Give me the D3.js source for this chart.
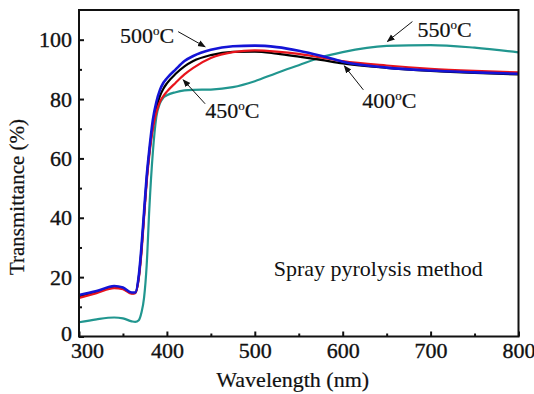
<!DOCTYPE html>
<html>
<head>
<meta charset="utf-8">
<script src="https://cdn.jsdelivr.net/npm/d3@7"></script>
<style>
  body { margin: 0; background: #fff; }
  text { font-family: "Liberation Serif", "Times New Roman", serif; fill: #111; }
</style>
</head>
<body>
<script>
// wavelength grid (nm) shared by every curve
var wavelength = [300, 320, 340, 350, 360, 364, 368, 371, 374, 377, 380, 384, 388, 392, 396,
                  400, 410, 420, 430, 450, 475, 500, 525, 550, 575, 600, 650, 700, 750, 800];

// transmittance (%)
var t400 = [13.5, 15, 16.7, 16.2, 14.6, 14.7, 20, 29, 41, 53, 62, 71, 77, 81, 83.5,
            85.3, 88.5, 91, 92.8, 94.8, 95.9, 96, 95.3, 94.3, 93.2, 92, 90.5, 89.5, 88.8, 88.3];
var t450 = [13, 14.6, 16.3, 15.9, 14.4, 14.6, 19.5, 28, 40, 52, 61, 70, 75.5, 79, 81,
            82.5, 85.5, 88.3, 90.5, 93.8, 95.8, 96.4, 96, 95.2, 94, 92.8, 91.3, 90.2, 89.5, 89];
var t500 = [14, 15.3, 17, 16.5, 14.8, 14.8, 20.5, 30, 42, 54, 63, 73, 79, 83, 85.5,
            87, 90, 92.8, 94.5, 96.6, 97.8, 98, 97.5, 96.3, 94.6, 92.6, 90.6, 89.6, 89, 88.5];
var t550 = [4.8, 5.8, 6.4, 6.1, 5.1, 4.9, 5.5, 8, 13, 24, 43, 62, 74, 78.5, 80.5,
            81.3, 82.3, 82.9, 83.1, 83.2, 84, 86, 88.8, 91.4, 94, 95.8, 97.9, 98.2, 97.3, 95.7];

var series = [
  {name: "550", values: t550, color: "#21968f"},
  {name: "400", values: t400, color: "#000000"},
  {name: "450", values: t450, color: "#e8141c"},
  {name: "500", values: t500, color: "#1414d6"}
];

var xTicks = [300, 400, 500, 600, 700, 800];
var xMinor = [350, 450, 550, 650, 750];
var yTicks = [0, 20, 40, 60, 80, 100];
var yMinor = [10, 30, 50, 70, 90];

// annotations: label, text anchor (nm, %), arrow from, arrow to
var notes = [
  {label: "500", at: [346.7, 98.8], from: [412.8, 102.7], to: [443.5, 97.6]},
  {label: "450", at: [443.5, 73.7], from: [443.5, 78.4], to: [418.5, 86.5]},
  {label: "400", at: [622.3, 77.1], from: [623.5, 83.1], to: [601.8, 91.2]},
  {label: "550", at: [685, 101], from: [679.3, 106.1], to: [650.8, 99.4]}
];

var w = 534, h = 394;
var svg = d3.select("body").append("svg")
    .attr("width", w)
    .attr("height", h);

var x = d3.scaleLinear().domain([300, 800]).range([79, 518.5]);
var y = d3.scaleLinear().domain([0, 110]).range([336.5, 10]);

var defs = svg.append("defs");
defs.append("marker")
    .attr("id", "head")
    .attr("viewBox", "0 0 10 10")
    .attr("refX", 9).attr("refY", 5)
    .attr("markerWidth", 8).attr("markerHeight", 8)
    .attr("markerUnits", "userSpaceOnUse")
    .attr("orient", "auto")
  .append("path")
    .attr("d", "M0,1 L10,5 L0,9 Z")
    .attr("fill", "#111");

// curves
var line = d3.line()
    .x(function(d) { return x(d[0]); })
    .y(function(d) { return y(d[1]); })
    .curve(d3.curveMonotoneX);

series.forEach(function(s) {
  svg.append("path")
    .datum(wavelength.map(function(wl, i) { return [wl, s.values[i]]; }))
    .attr("fill", "none")
    .attr("stroke", s.color)
    .attr("stroke-width", s.name == "500" ? 2.6 : 2.2)
    .attr("d", line);
});

// axes, ticks pointing inward
var xAxis = svg.append("g")
    .attr("transform", "translate(0," + y(0) + ")")
    .call(d3.axisBottom(x).tickValues(xTicks).tickSizeInner(-5).tickSizeOuter(0).tickPadding(6));
xAxis.selectAll("text").attr("font-size", 22)
    .attr("dx", function(d) { return d == 300 ? 8 : 0; });

svg.append("g")
    .attr("transform", "translate(0," + y(0) + ")")
    .call(d3.axisBottom(x).tickValues(xMinor).tickSizeInner(-3).tickSizeOuter(0).tickFormat(""));

var yAxis = svg.append("g")
    .attr("transform", "translate(" + x(300) + ",0)")
    .call(d3.axisLeft(y).tickValues(yTicks).tickSizeInner(-5).tickSizeOuter(0).tickPadding(7));
yAxis.selectAll("text").attr("font-size", 22)
    .attr("dy", function(d) { return d == 0 ? "0.2em" : "0.32em"; });

svg.append("g")
    .attr("transform", "translate(" + x(300) + ",0)")
    .call(d3.axisLeft(y).tickValues(yMinor).tickSizeInner(-3).tickSizeOuter(0).tickFormat(""));

svg.selectAll(".domain").remove();
svg.selectAll(".tick line").attr("stroke", "#111").attr("stroke-width", 2);
svg.selectAll(".tick text").attr("fill", "#111")
    .attr("stroke", "#111").attr("stroke-width", 0.35)
    .attr("font-family", "Liberation Serif, Times New Roman, serif");

// frame
svg.append("rect")
    .attr("x", x(300)).attr("y", y(110))
    .attr("width", x(800) - x(300)).attr("height", y(0) - y(110))
    .attr("fill", "none")
    .attr("stroke", "#111")
    .attr("stroke-width", 2);

// axis titles
svg.append("text")
    .attr("x", (x(300) + x(800)) / 2 - 6)
    .attr("y", 387)
    .attr("text-anchor", "middle")
    .attr("font-size", 22)
    .attr("stroke", "#111").attr("stroke-width", 0.2)
    .text("Wavelength (nm)");

svg.append("text")
    .attr("transform", "translate(24," + 197 + ") rotate(-90)")
    .attr("text-anchor", "middle")
    .attr("font-size", 21)
    .attr("stroke", "#111").attr("stroke-width", 0.2)
    .text("Transmittance (%)");

svg.append("text")
    .attr("x", x(521.5))
    .attr("y", y(20.3))
    .attr("font-size", 22)
    .text("Spray pyrolysis method");

// temperature labels with arrows
notes.forEach(function(n) {
  svg.append("line")
    .attr("x1", x(n.from[0])).attr("y1", y(n.from[1]))
    .attr("x2", x(n.to[0])).attr("y2", y(n.to[1]))
    .attr("stroke", "#111")
    .attr("stroke-width", 1)
    .attr("marker-end", "url(#head)");
  var t = svg.append("text")
    .attr("x", x(n.at[0]))
    .attr("y", y(n.at[1]))
    .attr("font-size", 22)
    .attr("stroke", "#111").attr("stroke-width", 0.2);
  t.append("tspan").text(n.label);
  t.append("tspan").attr("font-size", 13).attr("dy", -8).text("o");
  t.append("tspan").attr("dy", 8).text("C");
});
</script>
</body>
</html>
